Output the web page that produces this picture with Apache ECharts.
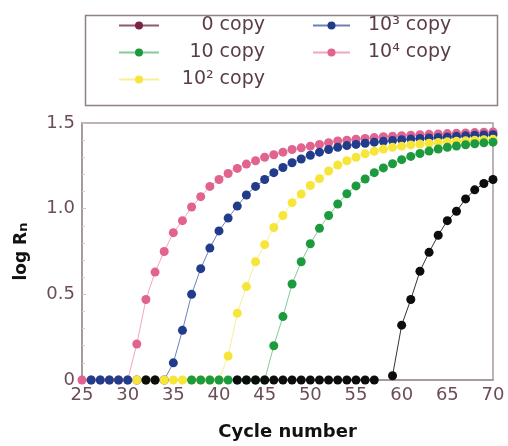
<!DOCTYPE html>
<html>
<head>
<meta charset="utf-8">
<script src="https://cdn.jsdelivr.net/npm/echarts@6/dist/echarts.min.js"></script>
<style>html,body{margin:0;padding:0;background:#fff;}#c{width:508px;height:446px;}</style>
</head>
<body>
<div id="c"></div>
<script>
// Cycle numbers 25..70
var cycles = [25,26,27,28,29,30,31,32,33,34,35,36,37,38,39,40,41,42,43,44,45,46,47,48,49,50,51,52,53,54,55,56,57,58,59,60,61,62,63,64,65,66,67,68,69,70];

// log Rn per cycle (null = no point shown)
var copy1e4 = [0,0,0,0,0,0,0.21,0.47,0.63,0.75,0.86,0.93,1.01,1.07,1.13,1.17,1.205,1.235,1.26,1.28,1.30,1.315,1.33,1.345,1.355,1.365,1.375,1.385,1.395,1.40,1.405,1.41,1.415,1.42,1.423,1.426,1.429,1.432,1.434,1.436,1.438,1.44,1.442,1.444,1.446,1.448];
var copy1e3 = [null,0,0,0,0,0,0,0,0,0,0.10,0.29,0.50,0.65,0.77,0.87,0.945,1.015,1.08,1.13,1.17,1.21,1.24,1.268,1.29,1.312,1.33,1.345,1.358,1.368,1.375,1.382,1.388,1.393,1.398,1.402,1.406,1.41,1.413,1.416,1.419,1.422,1.425,1.428,1.43,1.432];
var copy1e2 = [null,null,null,null,null,null,0,0,0,0,0,0,0,0,0,0,0.14,0.39,0.545,0.69,0.79,0.89,0.96,1.035,1.085,1.135,1.175,1.22,1.255,1.28,1.30,1.32,1.335,1.348,1.358,1.365,1.372,1.377,1.382,1.386,1.39,1.393,1.396,1.399,1.402,1.405];
var copy10 = [null,null,null,null,null,null,null,null,null,null,null,null,0,0,0,0,0,0,0,0,0,0.20,0.37,0.56,0.69,0.795,0.885,0.96,1.027,1.087,1.133,1.173,1.21,1.238,1.262,1.286,1.305,1.322,1.336,1.348,1.358,1.366,1.373,1.379,1.384,1.388];
var copy0 = [null,null,null,null,null,null,null,0,0,null,null,null,null,null,null,null,null,0,0,0,0,0,0,0,0,0,0,0,0,0,0,0,0,null,0.025,0.32,0.47,0.635,0.745,0.845,0.93,0.985,1.057,1.11,1.147,1.17];

var names = ['0 copy','10 copy','10\u00B2 copy','10\u00B3 copy','10\u2074 copy'];
var xTicks = [25,30,35,40,45,50,55,60,65,70];
var yTicks = [0,0.5,1.0,1.5];

function pairs(vals){ return cycles.map(function(c,i){ return [c, vals[i]]; }); }

var FONT = 'DejaVu Sans';
var legendFontSize = 19;
var cv = document.createElement('canvas').getContext('2d');
cv.font = legendFontSize + 'px "' + FONT + '"';
function tw(s){ return cv.measureText(s).width; }

var rich = { t: {fontSize: legendFontSize, fontFamily: FONT, color: '#5a3d47', lineHeight: 22} };
names.forEach(function(n, i){
  var w;
  if (i < 3) { w = Math.max(0, 101 - tw(n)); }
  else { w = 13; }
  rich['p' + i] = {width: w, fontSize: legendFontSize, lineHeight: 22};
});
function legendFmt(n){ var i = names.indexOf(n); return '{p' + i + '|}{t|' + n + '}'; }

var chart = echarts.init(document.getElementById('c'), null, {renderer: 'canvas'});

function lineSeries(name, vals, dot, line){
  return {
    name: name, type: 'line', data: pairs(vals),
    symbol: 'circle', symbolSize: 9, showSymbol: true,
    itemStyle: {color: dot},
    lineStyle: {color: line, width: 1},
    connectNulls: false, animation: false, emphasis: {disabled: true}
  };
}

chart.setOption({
  animation: false,
  backgroundColor: '#ffffff',
  textStyle: {fontFamily: FONT},
  grid: {left: 82, right: 15, top: 123, bottom: 61, show: true, borderColor: '#a89a9c', borderWidth: 1.5, backgroundColor: 'transparent'},
  graphic: [{
    type: 'rect', left: 83, top: 13, shape: {width: 412, height: 90},
    style: {fill: 'none', stroke: '#8f8084', lineWidth: 1.5}, silent: true
  }],
  legend: [{
    left: 118, top: 16, orient: 'vertical', padding: 0,
    itemWidth: 40, itemHeight: 10, itemGap: 8, selectedMode: false,
    formatter: legendFmt, textStyle: {rich: rich},
    data: [
      {name: names[0], itemStyle: {color: '#7b2346'}, lineStyle: {color: '#8d5a6c', width: 2}},
      {name: names[1], lineStyle: {width: 2}},
      {name: names[2], lineStyle: {width: 2}}
    ]
  }, {
    left: 312, top: 16, orient: 'vertical', padding: 0,
    itemWidth: 37, itemHeight: 10, itemGap: 8, selectedMode: false,
    formatter: legendFmt, textStyle: {rich: rich},
    data: [
      {name: names[3], lineStyle: {width: 2}},
      {name: names[4], lineStyle: {width: 2}}
    ]
  }],
  xAxis: {
    type: 'value', min: 25, max: 70, interval: 5,
    name: 'Cycle number', nameLocation: 'middle', nameGap: 43,
    nameTextStyle: {fontFamily: FONT, fontWeight: 'bold', fontSize: 18, color: '#111'},
    axisLine: {lineStyle: {color: '#a09496', width: 1.5}},
    axisTick: {show: false},
    splitLine: {show: false},
    axisLabel: {fontSize: 18, color: '#6b4e55', margin: 6, fontFamily: FONT,
      formatter: function(v){ return xTicks.indexOf(v) >= 0 ? String(v) : ''; }}
  },
  yAxis: {
    type: 'value', min: 0, max: 1.5, interval: 0.5,
    name: 'log R{s|n}', nameLocation: 'middle', nameGap: 52,
    nameTextStyle: {fontFamily: FONT, fontWeight: 'bold', fontSize: 17, color: '#111',
      rich: {s: {fontFamily: FONT, fontWeight: 'bold', fontSize: 13, color: '#111', verticalAlign: 'bottom', lineHeight: 14}}},
    axisLine: {show: true, lineStyle: {color: '#a09496', width: 1.5}},
    axisTick: {show: true, inside: true, length: 4, lineStyle: {color: '#c9c0c2'}},
    minorTick: {show: true, splitNumber: 5, length: 3, lineStyle: {color: '#d6cfd1'}},
    splitLine: {show: false},
    axisLabel: {fontSize: 18, color: '#6b4e55', margin: 7, fontFamily: FONT,
      formatter: function(v){ return v === 0 ? '0' : v.toFixed(1); }}
  },
  series: [
    lineSeries(names[4], copy1e4, '#e0648f', '#f0a8c0'),
    lineSeries(names[3], copy1e3, '#213c8a', '#6f80b8'),
    lineSeries(names[2], copy1e2, '#f7e53a', '#f7ee9a'),
    lineSeries(names[1], copy10, '#1b9a3e', '#86c99a'),
    lineSeries(names[0], copy0, '#0d0d0d', '#333333')
  ]
});
</script>
</body>
</html>
